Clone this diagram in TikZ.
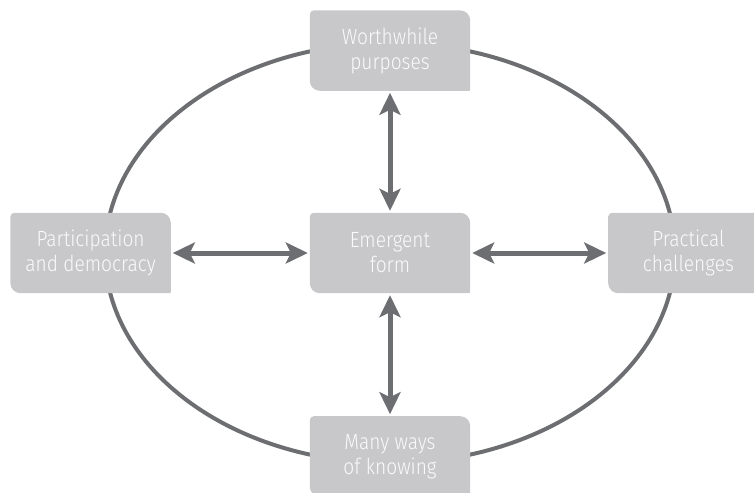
\documentclass[tikz,border=0pt]{standalone}
\usepackage{fontspec}
\setsansfont[FakeStretch=0.87]{Fira Sans Light}
\usepackage{xcolor}
\definecolor{boxGray}{HTML}{C8C8CA}
\definecolor{lineGray}{HTML}{6D6E71}
\definecolor{boxText}{HTML}{FAFAFA}
\usetikzlibrary{
    arrows.meta,
    positioning,
    backgrounds
}
\tikzset{
    % Text of the grey boxes
    idea/.style={
        font=\sffamily\fontsize{22pt}{25pt}\selectfont,
        align=center,
        text=boxText,
        minimum width=160pt,
        minimum height=80pt,
        inner sep=0pt,
    },
    % Grey box behind the text, two big and two small corners
    idea fill/.style={
        fill=boxGray,
    },
    % Big outer ring
    ring/.style={
        draw=lineGray,
        line width=4pt,
    },
    % Double headed arrow between boxes
    link/.style={
        {Stealth[length=22pt, width=21pt, inset=5pt]}-{Stealth[length=22pt, width=21pt, inset=5pt]},
        line width=5pt,
        draw=lineGray,
        shorten >=2pt,
        shorten <=2pt,
    },
}
\begin{document}
\begin{tikzpicture}[x=1pt, y=-1pt]
    \useasboundingbox (0,0) rectangle (754,492);
    \clip (0,0) rectangle (754,492);

    \node (form) [idea] at (390,253) {Emergent\\form};
    \node (purposes) [idea, above=122pt of form] {Worthwhile\\purposes};
    \node (knowing) [idea, below=123pt of form] {Many ways\\of knowing};
    \node (democracy) [idea, left=139pt of form] {Participation\\and democracy};
    \node (challenges) [idea, right=138pt of form] {Practical\\challenges};

    \begin{scope}[on background layer]
        \draw [ring] (form.center) ellipse [x radius=285pt, y radius=210pt];
        \foreach \n in {form, purposes, knowing, democracy, challenges}
            \fill [idea fill, rounded corners=4pt] (\n.west) |- (\n.north)
                [rounded corners=10pt] -| (\n.east)
                [rounded corners=1pt] |- (\n.south)
                [rounded corners=10pt] -| (\n.west) -- cycle;
    \end{scope}

    \draw [link] (form) -- (purposes);
    \draw [link] (form) -- (knowing);
    \draw [link] (form) -- (democracy);
    \draw [link] (form) -- (challenges);
\end{tikzpicture}
\end{document}
